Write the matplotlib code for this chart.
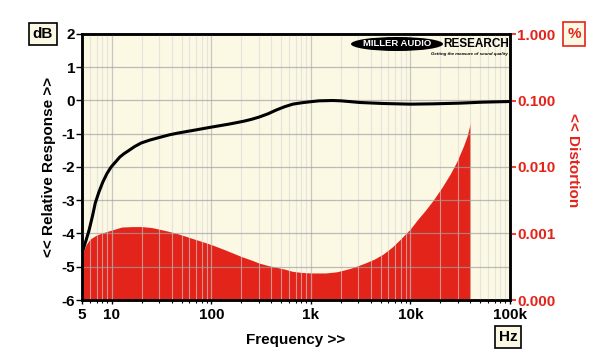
import numpy as np
import matplotlib.pyplot as plt
from matplotlib.patches import Ellipse
from matplotlib.ticker import FixedLocator, NullFormatter

plt.rcParams['font.family'] = ['Liberation Sans', 'DejaVu Sans']
plt.rcParams['font.weight'] = 'bold'
plt.rcParams['axes.unicode_minus'] = False

# Frequency response (dB)
resp_freq = [5, 5.5, 5.9, 6.4, 6.8, 7.4, 8.1, 8.9, 9.8, 11, 12, 13.2, 14.5, 17,
             19.6, 24, 31, 38, 46, 68, 100, 150, 206, 250, 300, 370, 445, 540,
             656, 800, 968, 1200, 1650, 2000, 2400, 3100, 5300, 10000, 17000,
             31000, 53000, 100000]
resp_db = [-4.59, -4.2, -3.89, -3.45, -3.08, -2.75, -2.45, -2.2, -2.0, -1.83,
           -1.70, -1.60, -1.52, -1.38, -1.28, -1.19, -1.10, -1.03, -0.98, -0.89,
           -0.80, -0.71, -0.63, -0.57, -0.50, -0.40, -0.29, -0.19, -0.11, -0.07,
           -0.04, -0.01, 0.0, -0.01, -0.03, -0.06, -0.09, -0.11, -0.10, -0.08,
           -0.05, -0.03]

# Distortion (%)
dist_freq = [5, 5.2, 5.5, 6, 7, 8, 10, 12.5, 16, 20, 25, 30, 37, 45, 55, 68, 82,
             100, 140, 200, 250, 300, 370, 450, 550, 650, 800, 1000, 1400, 1800,
             2100, 2500, 3000, 3500, 4300, 5300, 6500, 7900, 10000, 11700, 14000,
             17000, 21000, 25000, 29000, 34000, 37000, 40000]
dist_pct = [0.0004, 0.00055, 0.00068, 0.00082, 0.00095, 0.00102, 0.00113,
            0.00125, 0.00127, 0.00127, 0.00123, 0.00116, 0.00108, 0.001,
            0.00091, 0.00082, 0.00075, 0.00068, 0.00056, 0.00045, 0.0004,
            0.00036, 0.00033, 0.00031, 0.00029, 0.00027, 0.00026, 0.000255,
            0.000255, 0.000265, 0.00028, 0.0003, 0.00033, 0.00036, 0.00041,
            0.00049, 0.00062, 0.00082, 0.00118, 0.0016, 0.0022, 0.0032, 0.0051,
            0.0078, 0.0118, 0.0205, 0.029, 0.046]

x_ticks = [5, 10, 100, 1000, 10000, 100000]
x_labels = ['5', '10', '100', '1k', '10k', '100k']
db_ticks = [2, 1, 0, -1, -2, -3, -4, -5, -6]
pct_ticks = [1.0, 0.1, 0.01, 0.001, 0.0001]

red = '#e3241b'
cream = '#fbf8e4'

fig = plt.figure(figsize=(6, 3.64), dpi=100)
ax2 = fig.add_axes([82 / 600, 1 - 300 / 364, 428 / 600, 266 / 364])
ax = ax2.twinx()
ax.set_zorder(ax2.get_zorder() + 1)
ax.patch.set_visible(False)
ax2.set_facecolor(cream)

# distortion fill on right (log) axis
ax2.fill_between(dist_freq, 1e-4, dist_pct, color=red, lw=0, zorder=1)
ax2.set_xscale('log')
ax2.set_yscale('log')
ax2.set_xlim(5, 100000)
ax2.set_ylim(1e-4, 1)
ax2.yaxis.tick_right()
ax2.set_yticks(pct_ticks)
ax2.set_yticklabels(['%.3f' % v for v in pct_ticks])
ax2.yaxis.set_minor_locator(FixedLocator([]))
ax2.tick_params(axis='y', which='major', colors=red, labelcolor=red,
                length=4, width=1.2, pad=1, labelsize=11)

# x axis (shared) on base axes
ax2.set_xticks(x_ticks)
ax2.set_xticklabels(x_labels)
minor = [m * 10 ** e for e in range(0, 5) for m in range(2, 10)]
minor = [v for v in minor if 5 < v < 100000]
ax2.xaxis.set_minor_locator(FixedLocator(minor))
ax2.xaxis.set_minor_formatter(NullFormatter())
ax2.tick_params(axis='x', which='major', length=3, width=1, pad=3, labelsize=11)
ax2.tick_params(axis='x', which='minor', length=2, width=0.8)
ax2.set_axisbelow(False)
ax2.grid(True, which='major', axis='x', color='#b8b8b8', lw=0.9, alpha=0.75)
ax2.grid(True, which='minor', axis='x', color='#d8d8d8', lw=0.8, alpha=0.6)
ax2.set_xlabel('Frequency >>', fontsize=11, fontweight='bold', labelpad=8)

# response on left axis
ax.plot(resp_freq, resp_db, color='black', lw=2.2, zorder=5)
ax.set_ylim(-6, 2)
ax.yaxis.tick_left()
ax.yaxis.set_label_position('left')
ax.set_yticks(db_ticks)
ax.set_yticklabels([str(v) for v in db_ticks])
ax.tick_params(axis='y', length=4, width=1, pad=1, labelsize=11)
ax.grid(True, which='major', axis='y', color='#a0a0a0', lw=0.9, alpha=0.7)
ax.set_ylabel('<< Relative Response >>', fontsize=11, fontweight='bold', labelpad=4)

for a in (ax, ax2):
    for s in a.spines.values():
        s.set_color('black')
        s.set_linewidth(1.8)

fig.text(573 / 600, 1 - 160 / 364, '<< Distortion', color=red, rotation=-90,
         fontsize=11, fontweight='bold', ha='center', va='center')

# unit boxes
fig.text(43 / 600, 1 - 34 / 364, 'dB', fontsize=11, fontweight='bold',
         ha='center', va='center',
         bbox=dict(boxstyle='square,pad=0.25', fc=cream, ec='black', lw=1.2))
fig.text(574 / 600, 1 - 34 / 364, '%', fontsize=11, fontweight='bold', color=red,
         ha='center', va='center',
         bbox=dict(boxstyle='square,pad=0.3', fc=cream, ec=red, lw=1.2))
fig.text(508 / 600, 1 - 337 / 364, 'Hz', fontsize=11, fontweight='bold',
         ha='center', va='center',
         bbox=dict(boxstyle='square,pad=0.25', fc=cream, ec='black', lw=1.2))

# logo
fig.patches.append(Ellipse((397 / 600, 1 - 44 / 364), 92 / 600, 14 / 364,
                           transform=fig.transFigure, fc='black', ec='none',
                           zorder=10))
fig.text(397 / 600, 1 - 44 / 364, 'MILLER AUDIO', color='white', fontsize=6.8,
         fontweight='bold', ha='center', va='center', zorder=11)
fig.text(476 / 600, 1 - 44 / 364, 'RESEARCH', color='black', fontsize=8.5,
         fontweight='bold', ha='center', va='center', zorder=11)
fig.text(508 / 600, 1 - 54 / 364, 'Getting the measure of sound quality',
         color='black', fontsize=3.2, fontstyle='italic', ha='right',
         va='center', zorder=11)

fig.savefig('out.png', dpi=100)
